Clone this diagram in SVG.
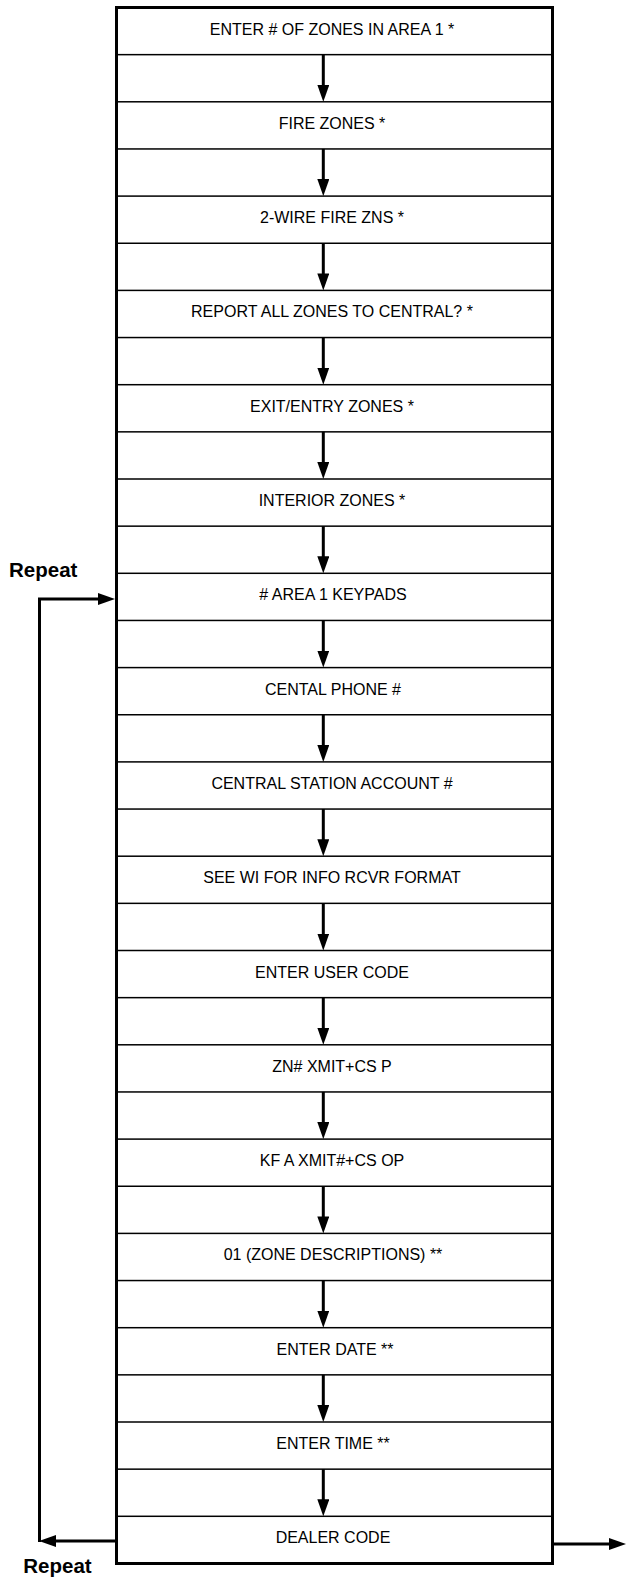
<svg xmlns="http://www.w3.org/2000/svg" width="626" height="1577" viewBox="0 0 626 1577">
<style>
.bg{fill:#fff}
.node rect{fill:#fff;stroke:#000;stroke-width:1.5}
.node text{font-family:"Liberation Sans",Arial,sans-serif;font-size:16px;fill:#000;text-anchor:middle}
.frame{fill:none;stroke:#000;stroke-width:3}
.conn{fill:none;stroke:#000;stroke-width:3;marker-end:url(#ah)}
.lbl{font-family:"Liberation Sans",Arial,sans-serif;font-size:20.5px;font-weight:bold;fill:#000}
</style>
<defs>
<marker id="ah" markerUnits="userSpaceOnUse" markerWidth="17" markerHeight="12" refX="7" refY="6" orient="auto" viewBox="0 0 17 12">
<path d="M0,0 L17,6 L0,12 z" fill="#000"/>
</marker>
</defs>
<rect class="bg" x="0" y="0" width="626" height="1577"/>
<g id="nodes">
<g id="n1" class="node"><rect x="116.5" y="7.5" width="436" height="47.15"/><text x="332" y="34.5">ENTER # OF ZONES IN AREA 1 *</text></g>
<g id="n2" class="node"><rect x="116.5" y="101.8" width="436" height="47.15"/><text x="332" y="128.8">FIRE ZONES *</text></g>
<g id="n3" class="node"><rect x="116.5" y="196.1" width="436" height="47.15"/><text x="332" y="223.1">2-WIRE FIRE ZNS *</text></g>
<g id="n4" class="node"><rect x="116.5" y="290.4" width="436" height="47.15"/><text x="332" y="317.4">REPORT ALL ZONES TO CENTRAL? *</text></g>
<g id="n5" class="node"><rect x="116.5" y="384.7" width="436" height="47.15"/><text x="332" y="411.7">EXIT/ENTRY ZONES *</text></g>
<g id="n6" class="node"><rect x="116.5" y="479" width="436" height="47.15"/><text x="332" y="506">INTERIOR ZONES *</text></g>
<g id="n7" class="node"><rect x="116.5" y="573.3" width="436" height="47.15"/><text x="333" y="600.3"># AREA 1 KEYPADS</text></g>
<g id="n8" class="node"><rect x="116.5" y="667.6" width="436" height="47.15"/><text x="333" y="694.6">CENTAL PHONE #</text></g>
<g id="n9" class="node"><rect x="116.5" y="761.9" width="436" height="47.15"/><text x="332" y="788.9">CENTRAL STATION ACCOUNT #</text></g>
<g id="n10" class="node"><rect x="116.5" y="856.2" width="436" height="47.15"/><text x="332" y="883.2">SEE WI FOR INFO RCVR FORMAT</text></g>
<g id="n11" class="node"><rect x="116.5" y="950.5" width="436" height="47.15"/><text x="332" y="977.5">ENTER USER CODE</text></g>
<g id="n12" class="node"><rect x="116.5" y="1044.8" width="436" height="47.15"/><text x="332" y="1071.8">ZN# XMIT+CS P</text></g>
<g id="n13" class="node"><rect x="116.5" y="1139.1" width="436" height="47.15"/><text x="332" y="1166.1">KF A XMIT#+CS OP</text></g>
<g id="n14" class="node"><rect x="116.5" y="1233.4" width="436" height="47.15"/><text x="333" y="1260.4">01 (ZONE DESCRIPTIONS) **</text></g>
<g id="n15" class="node"><rect x="116.5" y="1327.7" width="436" height="47.15"/><text x="335" y="1354.7">ENTER DATE **</text></g>
<g id="n16" class="node"><rect x="116.5" y="1422" width="436" height="47.15"/><text x="333" y="1449">ENTER TIME **</text></g>
<g id="n17" class="node"><rect x="116.5" y="1516.3" width="436" height="47.15"/><text x="333" y="1543.3">DEALER CODE</text></g>
</g>
<rect class="frame" x="116.5" y="7.5" width="436" height="1556"/>
<g id="connectors">
<path class="conn" d="M323.3,54.65 V91.8"/>
<path class="conn" d="M323.3,148.95 V186.1"/>
<path class="conn" d="M323.3,243.25 V280.4"/>
<path class="conn" d="M323.3,337.55 V374.7"/>
<path class="conn" d="M323.3,431.85 V469"/>
<path class="conn" d="M323.3,526.15 V563.3"/>
<path class="conn" d="M323.3,620.45 V657.6"/>
<path class="conn" d="M323.3,714.75 V751.9"/>
<path class="conn" d="M323.3,809.05 V846.2"/>
<path class="conn" d="M323.3,903.35 V940.5"/>
<path class="conn" d="M323.3,997.65 V1034.8"/>
<path class="conn" d="M323.3,1091.95 V1129.1"/>
<path class="conn" d="M323.3,1186.25 V1223.4"/>
<path class="conn" d="M323.3,1280.55 V1317.7"/>
<path class="conn" d="M323.3,1374.85 V1412"/>
<path class="conn" d="M323.3,1469.15 V1506.3"/>
<path class="conn" d="M115,1541 H49"/>
<path class="conn" d="M39.5,1542 V599 H105"/>
<path class="conn" d="M554,1544 H616"/>
</g>
<text class="lbl" x="9" y="576.7">Repeat</text>
<text class="lbl" x="23.3" y="1573.3">Repeat</text>
</svg>
